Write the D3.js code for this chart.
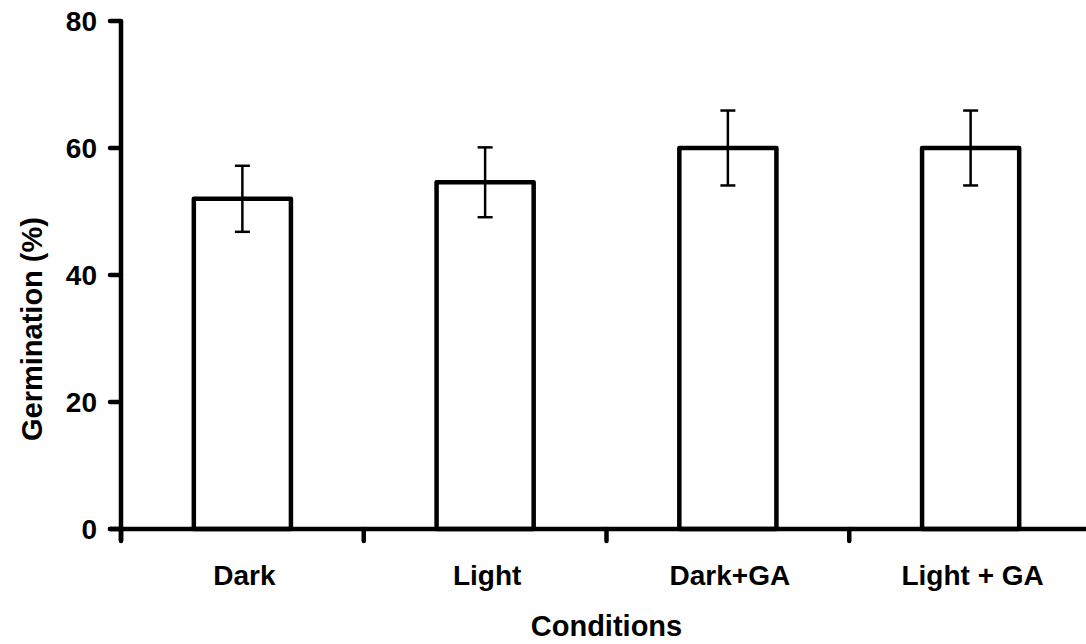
<!DOCTYPE html>
<html><head><meta charset="utf-8">
<script src="https://cdn.jsdelivr.net/npm/d3@7"></script>
<style>body{margin:0;background:#fff}svg{display:block}text{font-family:"Liberation Sans",Arial,sans-serif;font-weight:bold;fill:#000}</style>
</head><body>
<svg id="c" width="1086" height="644"></svg>
<script>
const categories = ["Dark", "Light", "Dark+GA", "Light + GA"];
const values = [52, 54.6, 60, 60];
const errors = [5.2, 5.5, 5.9, 5.9];
const yTicks = [0, 20, 40, 60, 80];

const svg = d3.select("#c");
const x0 = 121, x1 = 1092, yTop = 21, yBot = 529;
const x = d3.scaleBand().domain(categories).range([x0, x1]).paddingInner(0.6).paddingOuter(0.3);
const y = d3.scaleLinear().domain([0, 80]).range([yBot, yTop]);
const step = x.step();

// bars
svg.selectAll("rect.bar").data(categories).enter().append("rect")
  .attr("x", d => x(d)).attr("width", x.bandwidth())
  .attr("y", (d,i) => y(values[i])).attr("height", (d,i) => yBot - y(values[i]))
  .attr("fill", "#fff").attr("stroke", "#000").attr("stroke-width", 4.5).attr("stroke-linejoin", "round");

// error bars
const eb = svg.selectAll("g.eb").data(categories).enter().append("g");
eb.append("line").attr("x1", d => x(d)+x.bandwidth()/2).attr("x2", d => x(d)+x.bandwidth()/2)
  .attr("y1", (d,i) => y(values[i]+errors[i])).attr("y2", (d,i) => y(values[i]-errors[i]))
  .attr("stroke", "#000").attr("stroke-width", 2.5);
[1,-1].forEach(s => {
  eb.append("line").attr("x1", d => x(d)+x.bandwidth()/2-7.5).attr("x2", d => x(d)+x.bandwidth()/2+7.5)
    .attr("y1", (d,i) => y(values[i]+s*errors[i])).attr("y2", (d,i) => y(values[i]+s*errors[i]))
    .attr("stroke", "#000").attr("stroke-width", 2.5);
});

// y axis
svg.append("line").attr("x1", x0).attr("x2", x0).attr("y1", yTop).attr("y2", yBot+12)
  .attr("stroke", "#000").attr("stroke-width", 4.5);
svg.selectAll("line.yt").data(yTicks).enter().append("line")
  .attr("x1", x0-11).attr("x2", x0).attr("y1", d => y(d)).attr("y2", d => y(d))
  .attr("stroke", "#000").attr("stroke-width", 4.5).attr("stroke-linecap", "round");
svg.selectAll("text.yl").data(yTicks).enter().append("text")
  .attr("x", 97).attr("y", d => y(d)).attr("dy", "0.36em").attr("text-anchor", "end")
  .attr("font-size", 28).text(d => d);

// x axis
svg.append("line").attr("x1", x0-11).attr("x2", x1).attr("y1", yBot).attr("y2", yBot)
  .attr("stroke", "#000").attr("stroke-width", 4.5).attr("stroke-linecap", "round");
svg.selectAll("line.xt").data(d3.range(categories.length+1)).enter().append("line")
  .attr("x1", i => x0 + i*step).attr("x2", i => x0 + i*step).attr("y1", yBot).attr("y2", yBot+12)
  .attr("stroke", "#000").attr("stroke-width", 4.5).attr("stroke-linecap", "round");
svg.selectAll("text.xl").data(categories).enter().append("text")
  .attr("x", d => x(d)+x.bandwidth()/2+2).attr("y", 585).attr("text-anchor", "middle")
  .attr("font-size", 28).text(d => d);

// titles
svg.append("text").attr("x", (x0+x1)/2).attr("y", 636).attr("text-anchor", "middle")
  .attr("font-size", 29).text("Conditions");
svg.append("text").attr("transform", "translate(42,329) rotate(-90)")
  .attr("text-anchor", "middle").attr("font-size", 29).text("Germination (%)");
</script>
</body></html>
